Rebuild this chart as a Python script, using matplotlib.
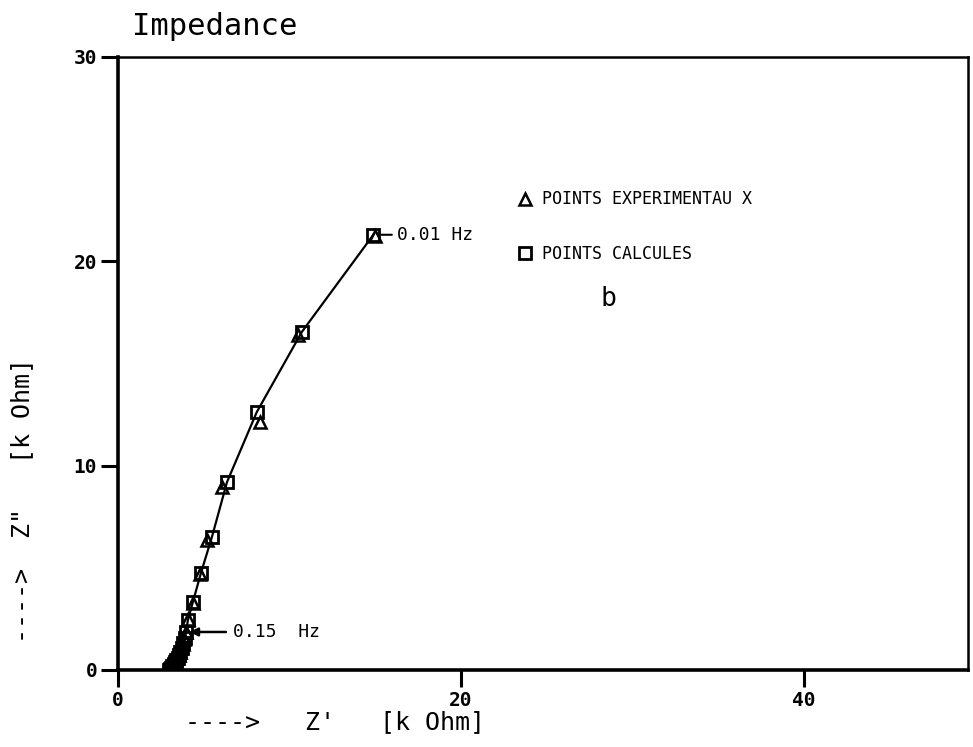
import matplotlib
matplotlib.use("Agg")
import matplotlib.pyplot as plt

# Nyquist plot, Z' vs Z'' in k Ohm, from 0.01 Hz (top) down to high frequency
z_re_calc = [14.9, 10.73, 8.1, 6.36, 5.48, 4.84, 4.37, 4.08, 3.97,
             3.88, 3.80, 3.72, 3.64, 3.56, 3.48, 3.40, 3.32, 3.24, 3.17, 3.10, 3.04, 3.0]
z_im_calc = [21.3, 16.55, 12.63, 9.2, 6.51, 4.75, 3.33, 2.45, 1.86,
             1.55, 1.30, 1.08, 0.90, 0.74, 0.60, 0.48, 0.37, 0.27, 0.18, 0.11, 0.05, 0.02]

z_re_exp = [15.0, 10.5, 8.28, 6.06, 5.19, 4.80, 4.35, 4.10, 3.95,
            3.86, 3.78, 3.70, 3.62, 3.54, 3.46, 3.38, 3.30, 3.22, 3.15, 3.08, 3.02, 2.98]
z_im_exp = [21.25, 16.4, 12.14, 8.96, 6.36, 4.70, 3.30, 2.50, 1.84,
            1.52, 1.28, 1.06, 0.88, 0.72, 0.58, 0.46, 0.35, 0.25, 0.16, 0.10, 0.04, 0.01]

x_ticks = [0, 20, 40]
y_ticks = [0, 10, 20, 30]

mono = "DejaVu Sans Mono"

fig = plt.figure(figsize=(9.73, 7.47), dpi=100)
ax = fig.add_axes([0.1213, 0.1031, 0.8736, 0.8206])

ax.plot(z_re_calc, z_im_calc, color="black", lw=1.6, zorder=2)
ax.plot(z_re_calc, z_im_calc, ls="none", marker="s", ms=8.5, mfc="none",
        mec="black", mew=2.0, label="POINTS CALCULES", zorder=3)
ax.plot(z_re_exp, z_im_exp, ls="none", marker="^", ms=8.5, mfc="none",
        mec="black", mew=1.8, label="POINTS EXPERIMENTAU X", zorder=3)

ax.set_xlim(0, 49.6)
ax.set_ylim(0, 30)
ax.set_xticks(x_ticks)
ax.set_yticks(y_ticks)
ax.tick_params(direction="out", length=12, width=2.2, pad=3,
               labelsize=14)
for lab in ax.get_xticklabels() + ax.get_yticklabels():
    lab.set_fontfamily(mono)
    lab.set_fontweight("bold")

for side in ["top", "right"]:
    ax.spines[side].set_linewidth(1.8)
for side in ["left", "bottom"]:
    ax.spines[side].set_linewidth(2.6)

# frequency labels
ax.annotate("0.01 Hz", xy=(z_re_calc[0] + 0.3, z_im_calc[0]),
            xytext=(16.3, z_im_calc[0]), va="center", ha="left",
            fontsize=13, family=mono,
            arrowprops=dict(arrowstyle="-", lw=1.5, color="black"))
ax.annotate("0.15  Hz", xy=(z_re_calc[8] + 0.2, z_im_calc[8]),
            xytext=(6.7, z_im_calc[8]), va="center", ha="left",
            fontsize=13, family=mono,
            arrowprops=dict(arrowstyle="-|>", lw=1.8, color="black",
                            mutation_scale=12, shrinkA=3, shrinkB=0))

h, l = ax.get_legend_handles_labels()
fig.legend(h[::-1], l[::-1], loc="upper left", bbox_to_anchor=(0.531, 0.745),
           frameon=False, handlelength=1.0, handletextpad=0.5,
           labelspacing=2.2, borderpad=0, borderaxespad=0,
           prop={"family": mono, "size": 12})

fig.text(0.625, 0.6, "b", fontsize=19, family=mono, ha="center", va="center")

fig.text(0.136, 0.965, "Impedance", fontsize=22, family=mono,
         ha="left", va="center")
fig.text(0.19, 0.033, "---->   Z'   [k Ohm]", fontsize=18, family=mono,
         ha="left", va="center")
fig.text(0.023, 0.33, '---->  Z"   [k Ohm]', fontsize=18, family=mono,
         ha="center", va="center", rotation=90)

fig.savefig("out.png", dpi=100)
